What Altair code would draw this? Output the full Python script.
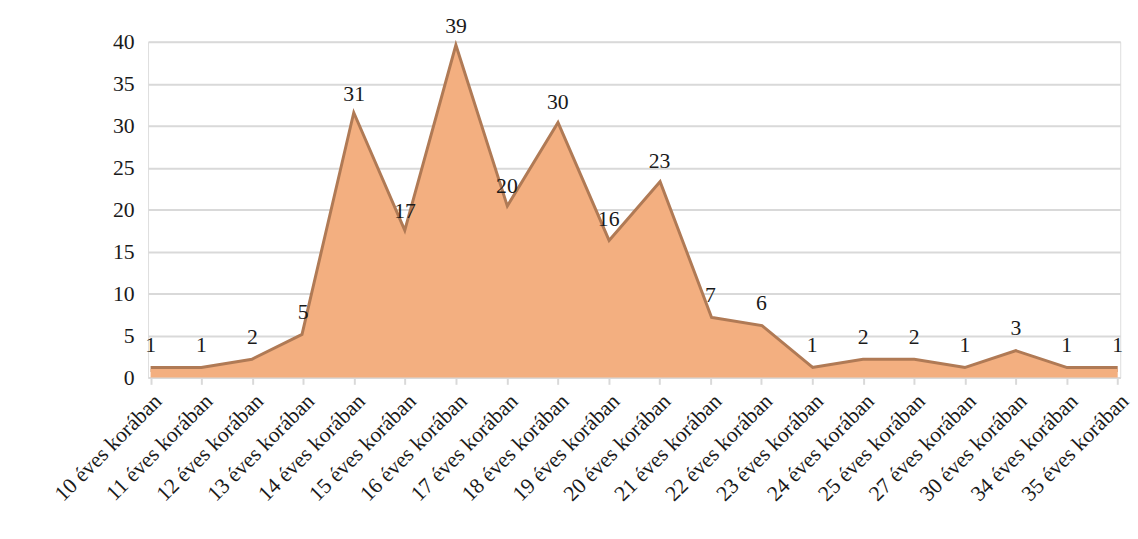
import altair as alt
import pandas as pd

ages = ["10", "11", "12", "13", "14", "15", "16", "17", "18", "19",
        "20", "21", "22", "23", "24", "25", "27", "30", "34", "35"]
categories = [f"{a} éves korában" for a in ages]
values = [1, 1, 2, 5, 31, 17, 39, 20, 30, 16, 23, 7, 6, 1, 2, 2, 1, 3, 1, 1]
y_ticks = [0, 5, 10, 15, 20, 25, 30, 35, 40]

df = pd.DataFrame({"kat": categories, "ertek": values})

FONT = "Liberation Serif"

x = alt.X("kat:N", sort=categories, title=None,
          scale=alt.Scale(type="point", padding=0.05),
          axis=alt.Axis(labelAngle=-45, labelFontSize=22, labelFont=FONT,
                        labelColor="#1a1a1a", domainColor="#D9D9D9",
                        domainWidth=2, tickColor="#D9D9D9", tickSize=7,
                        tickWidth=2, labelPadding=6, grid=False))
y = alt.Y("ertek:Q", title=None,
          scale=alt.Scale(domain=[0, 40], nice=False),
          axis=alt.Axis(values=y_ticks, labelFontSize=22, labelFont=FONT,
                        labelColor="#1a1a1a", domain=False, ticks=False,
                        gridColor="#D9D9D9", gridWidth=2, labelPadding=14))

base = alt.Chart(df)

area = base.mark_area(color="#F3AF80", opacity=1).encode(x=x, y=y)
edge = base.mark_line(color="#B07A55", strokeWidth=6, strokeJoin="miter").encode(x=x, y=y)
labels = base.mark_text(dy=-24, fontSize=22, font=FONT, color="#1a1a1a").encode(
    x=x, y=y, text="ertek:Q")

chart = (edge + area + labels).properties(
    width=985, height=340,
    padding={"left": 50, "top": 12, "right": 5, "bottom": 5},
).configure_view(stroke=None).configure(background="white")

chart.save("out.html", embed_options={"renderer": "svg", "actions": False})
